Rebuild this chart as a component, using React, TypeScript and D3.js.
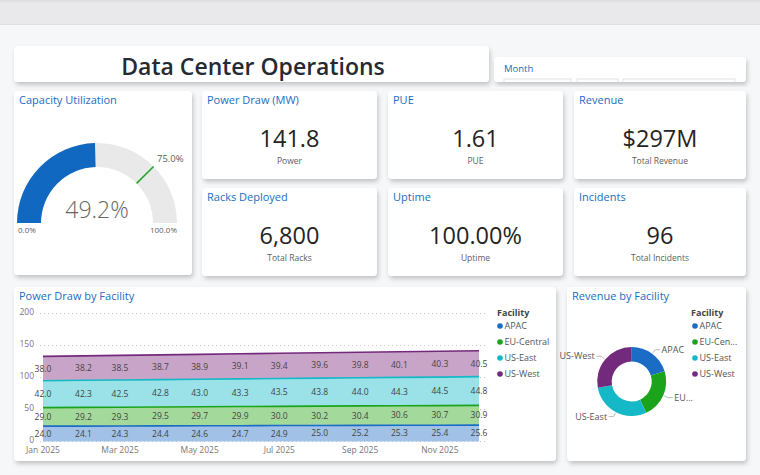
import React from 'react';
import * as d3 from 'd3';

// ---- data ----
const months = ['2025-01', '2025-02', '2025-03', '2025-04', '2025-05', '2025-06', '2025-07', '2025-08', '2025-09', '2025-10', '2025-11', '2025-12'];
const facilities = ['APAC', 'EU-Central', 'US-East', 'US-West'];
const apacPower = [24.0, 24.1, 24.3, 24.4, 24.6, 24.7, 24.9, 25.0, 25.2, 25.3, 25.4, 25.6];
const euCentralPower = [29.0, 29.2, 29.3, 29.5, 29.7, 29.9, 30.0, 30.2, 30.4, 30.6, 30.7, 30.9];
const usEastPower = [42.0, 42.3, 42.5, 42.8, 43.0, 43.3, 43.5, 43.8, 44.0, 44.3, 44.5, 44.8];
const usWestPower = [38.0, 38.2, 38.5, 38.7, 38.9, 39.1, 39.4, 39.6, 39.8, 40.1, 40.3, 40.5];
const revenueByFacility = [60, 68, 86, 83];
const revenueLabels = ['APAC', 'EU...', 'US-East', 'US-West'];
const revenueLegend = ['APAC', 'EU-Cen...', 'US-East', 'US-West'];
const powerTicks = [0, 50, 100, 150, 200];

const kpiTitles = ['Power Draw (MW)', 'PUE', 'Revenue', 'Racks Deployed', 'Uptime', 'Incidents'];
const kpiValues = ['141.8', '1.61', '$297M', '6,800', '100.00%', '96'];
const kpiLabels = ['Power', 'PUE', 'Total Revenue', 'Total Racks', 'Uptime', 'Total Incidents'];

const capacityValue = 49.2;
const capacityTarget = 75.0;
const capacityMax = 100;

const lineColors = ['#1b6cc4', '#1ba31b', '#14b8c6', '#742a7c'];
const fillColors = ['#a1c2e6', '#a4d99c', '#9ae2e8', '#c8a4c8'];

const FONT = '"Segoe UI", "Open Sans", "DejaVu Sans", sans-serif';
const BLUE = '#1a6dc2';

const Card: React.FC<{ x: number; y: number; w: number; h: number; title?: string }> = ({ x, y, w, h, title }) => (
  <g>
    <rect x={x} y={y} width={w} height={h} rx={4} fill="#fff" filter="url(#shadow)" />
    {title && (
      <text x={x + 5} y={y + 13} fontSize={11} fill={BLUE} fontFamily={FONT}>
        {title}
      </text>
    )}
  </g>
);

const App: React.FC = () => {
  // Area chart
  const parse = d3.timeParse('%Y-%m');
  const rows = months.map((m, i) => ({
    date: parse(m) as Date,
    APAC: apacPower[i],
    'EU-Central': euCentralPower[i],
    'US-East': usEastPower[i],
    'US-West': usWestPower[i],
  }));
  const stacked = d3.stack<any>().keys(facilities)(rows);
  const x = d3.scaleTime().domain([rows[0].date, rows[rows.length - 1].date]).range([43, 479]);
  const y = d3.scaleLinear().domain([0, 200]).range([441.5, 313.5]);
  const area = d3
    .area<any>()
    .x((d) => x(d.data.date))
    .y0((d) => y(d[0]))
    .y1((d) => y(d[1]));
  const topLine = d3
    .line<any>()
    .x((d) => x(d.data.date))
    .y((d) => y(d[1]));
  const xTicks = x.ticks(d3.timeMonth.every(2) as any);
  const fmtMonth = d3.timeFormat('%b %Y');
  const fmt1 = d3.format('.1f');

  // Gauge
  const gcx = 97;
  const gcy = 223;
  const gIn = 56;
  const gOut = 80;
  const gScale = d3.scaleLinear().domain([0, capacityMax]).range([-Math.PI / 2, Math.PI / 2]);
  const gArc = d3.arc<any>().innerRadius(gIn).outerRadius(gOut);
  const tA = gScale(capacityTarget);

  // Donut
  const dcx = 631.7;
  const dcy = 381.5;
  const dOut = 34.5;
  const dIn = 20;
  const pie = d3.pie<number>().sort(null)(revenueByFacility);
  const dArc = d3.arc<any>().innerRadius(dIn).outerRadius(dOut);

  return (
    <svg width={760} height={475} style={{ position: 'absolute', left: 0, top: 0 }} fontFamily={FONT}>
      <defs>
        <filter id="shadow" x="-10%" y="-10%" width="125%" height="130%">
          <feDropShadow dx={1.5} dy={3} stdDeviation={2.2} floodColor="#000" floodOpacity={0.2} />
        </filter>
        <clipPath id="monthClip">
          <rect x={494} y={57} width={252} height={25} rx={4} />
        </clipPath>
        <linearGradient id="topbar" x1="0" y1="0" x2="0" y2="1">
          <stop offset="0" stopColor="#dcdcde" />
          <stop offset="0.12" stopColor="#e9e9eb" />
          <stop offset="1" stopColor="#e9e9eb" />
        </linearGradient>
      </defs>
      <rect x={0} y={0} width={760} height={475} fill="#f6f7f9" />
      <rect x={0} y={0} width={760} height={24} fill="url(#topbar)" />
      <rect x={0} y={24} width={760} height={1} fill="#dfe0e2" />

      {/* Title */}
      <rect x={14} y={46} width={475} height={36} rx={4} fill="#fff" filter="url(#shadow)" />
      <text x={253} y={75} textAnchor="middle" fontSize={23} fontWeight={600} fill="#252a33">
        Data Center Operations
      </text>

      {/* Month slicer */}
      <rect x={494} y={57} width={252} height={25} rx={4} fill="#fff" filter="url(#shadow)" />
      <text x={504} y={72} fontSize={9.5} fill={BLUE}>
        Month
      </text>
      <g clipPath="url(#monthClip)">
        {[
          [504, 67],
          [577, 41],
          [623, 112],
        ].map(([bx, bw], i) => (
          <rect key={i} x={bx} y={79} width={bw} height={12} fill="none" stroke="#e1e1e1" />
        ))}
      </g>

      {/* Gauge */}
      <Card x={14} y={91} w={178} h={184} title="Capacity Utilization" />
      <g transform={`translate(${gcx},${gcy})`}>
        <path d={gArc({ startAngle: gScale(0), endAngle: gScale(capacityMax) }) as string} fill="#e9e9e9" />
        <path d={gArc({ startAngle: gScale(0), endAngle: gScale(capacityValue) }) as string} fill="#1168c0" />
        <line
          x1={gIn * Math.sin(tA)}
          y1={-gIn * Math.cos(tA)}
          x2={gOut * Math.sin(tA)}
          y2={-gOut * Math.cos(tA)}
          stroke="#22a32b"
          strokeWidth={1.5}
        />
        <text x={(gOut + 2) * Math.sin(tA) + 2} y={-(gOut + 2) * Math.cos(tA) - 3} fontSize={9.5} fill="#605e5c">
          {fmt1(capacityTarget)}%
        </text>
        <text x={-gOut + 1} y={10} fontSize={8} fill="#605e5c">
          {fmt1(0)}%
        </text>
        <text x={gOut} y={10} textAnchor="end" fontSize={8} fill="#605e5c">
          {fmt1(capacityMax)}%
        </text>
        <text x={0} y={-5} textAnchor="middle" fontSize={23} fontWeight={300} fill="#666">
          {fmt1(capacityValue)}%
        </text>
      </g>

      {/* KPI cards */}
      {kpiTitles.map((t, i) => {
        const col = i % 3;
        const row = Math.floor(i / 3);
        const cx = [202, 388, 574][col];
        const cw = [175, 175, 172][col];
        const cy = [91, 188][row];
        const ch = [88, 88][row];
        return (
          <g key={t}>
            <Card x={cx} y={cy} w={cw} h={ch} title={t} />
            <text x={cx + cw / 2} y={cy + 56} textAnchor="middle" fontSize={23.5} fontWeight={500} fill="#252423">
              {kpiValues[i]}
            </text>
            <text x={cx + cw / 2} y={cy + 73} textAnchor="middle" fontSize={8.5} fill="#605e5c">
              {kpiLabels[i]}
            </text>
          </g>
        );
      })}

      {/* Power Draw by Facility */}
      <Card x={14} y={287} w={542} h={174} title="Power Draw by Facility" />
      {powerTicks.map((t) => (
        <g key={t}>
          <line x1={40} x2={486} y1={y(t)} y2={y(t)} stroke="#c8c8c8" strokeDasharray="1,3" />
          <text x={34} y={y(t) - 1.5} dy="0.35em" textAnchor="end" fontSize={8.5} fill="#777">
            {t}
          </text>
        </g>
      ))}
      {stacked.map((s, i) => (
        <path key={s.key} d={area(s) as string} fill={fillColors[i]} />
      ))}
      {stacked.map((s, i) => (
        <path key={s.key} d={topLine(s) as string} fill="none" stroke={lineColors[i]} strokeWidth={1.6} />
      ))}
      {stacked.map((s) =>
        s.map((d: any, j: number) => (
          <text
            key={s.key + j}
            x={x(d.data.date)}
            y={y((d[0] + d[1]) / 2)}
            dy="0.35em"
            textAnchor="middle"
            fontSize={8.5}
            fill="#444"
          >
            {fmt1(d[1] - d[0])}
          </text>
        ))
      )}
      {xTicks.map((t) => (
        <text key={+t} x={x(t)} y={453} textAnchor="middle" fontSize={8.5} fill="#777">
          {fmtMonth(t)}
        </text>
      ))}
      <text x={497} y={316} fontSize={9} fontWeight={700} fill="#444">
        Facility
      </text>
      {facilities.map((f, i) => (
        <g key={f} transform={`translate(500,${326 + i * 16})`}>
          <circle r={2.8} fill={lineColors[i]} />
          <text x={4.5} dy="0.35em" fontSize={9} fill="#555">
            {f}
          </text>
        </g>
      ))}

      {/* Revenue by Facility */}
      <Card x={567} y={287} w={179} h={174} title="Revenue by Facility" />
      <g transform={`translate(${dcx},${dcy})`}>
        {pie.map((p, i) => (
          <path key={i} d={dArc(p) as string} fill={lineColors[i]} />
        ))}
        {pie.map((p, i) => {
          const a = (p.startAngle + p.endAngle) / 2;
          const sx = Math.sin(a);
          const sy = -Math.cos(a);
          const side = sx >= 0 ? 1 : -1;
          const ex = (dOut + 5) * sx;
          const ey = (dOut + 5) * sy;
          return (
            <g key={'l' + i}>
              <polyline
                points={`${(dOut + 1) * sx},${(dOut + 1) * sy} ${ex},${ey} ${ex + side * 5},${ey}`}
                fill="none"
                stroke="#aaa"
                strokeWidth={0.8}
              />
              <text
                x={ex + side * 6.5}
                y={ey}
                dy="0.35em"
                textAnchor={side > 0 ? 'start' : 'end'}
                fontSize={9}
                fill="#555"
              >
                {revenueLabels[i]}
              </text>
            </g>
          );
        })}
      </g>
      <text x={691} y={316} fontSize={9} fontWeight={700} fill="#444">
        Facility
      </text>
      {revenueLegend.map((f, i) => (
        <g key={f} transform={`translate(695,${326 + i * 16})`}>
          <circle r={2.8} fill={lineColors[i]} />
          <text x={4.5} dy="0.35em" fontSize={9} fill="#555">
            {f}
          </text>
        </g>
      ))}
    </svg>
  );
};

export default App;
